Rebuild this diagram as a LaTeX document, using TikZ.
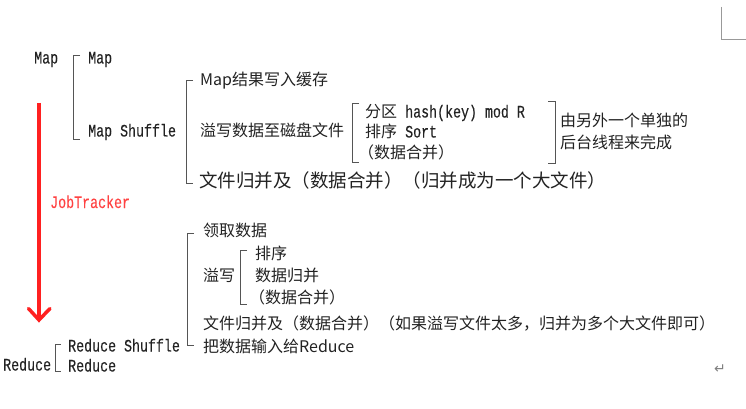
\documentclass[tikz,border=0pt]{standalone}
\usepackage{fontspec}
\setmainfont{Noto Sans CJK SC}
\newfontfamily\monofnt[FakeStretch=0.76,FakeBold=0.2]{Liberation Mono}
\newfontfamily\symbfnt{DejaVu Sans}
\newcommand{\Mo}[1]{{\monofnt\fontsize{17.5}{18}\selectfont #1}}
\definecolor{txt}{HTML}{222222}
\definecolor{brk}{HTML}{555555}
\definecolor{jt}{HTML}{FF2020}
\tikzset{
  t/.style={anchor=base west, inner sep=0pt, text=txt, font=\fontsize{16}{16}\selectfont},
  tbig/.style={t, font=\fontsize{18.5}{18.5}\selectfont},
  brack/.style={draw=brk, line width=1pt},
}
\begin{document}
\begin{tikzpicture}[x=1pt,y=-1pt]
\useasboundingbox (0,0) rectangle (746,409);
% corner mark
\coordinate (c1) at (721,7);
\coordinate (c2) at (721,40);
\coordinate (c3) at (746,40);
\draw[draw=gray!80, line width=1pt] (c1) -- (c2) -- (c3);

% Map section
\node[t] (map0) at (34,63.5) {\Mo{Map}};
\draw[brack] (80,56) -- (73,56) -- (73,139) -- (80,139);
\node[t] (map1) at (88,63.5) {\Mo{Map}};
\node[t] (mapsh) at (88,136.5) {\Mo{Map Shuffle}};

\draw[brack] (193,81) -- (186,81) -- (186,183) -- (193,183);
\node[t] (m1) at (200,85.5) {Map结果写入缓存};
\node[t] (m2) at (200,136.5) {溢写数据至磁盘文件};
\draw[brack] (359,104) -- (352,104) -- (352,162) -- (359,162);
\node[t] (p1) at (365,117.5) {分区\Mo{ hash(key) mod R}};
\node[t] (p2) at (365,137.5) {排序\Mo{ Sort}};
\node[t] (p3) at (358,158.5) {（数据合并）};
\draw[brack] (548,102) -- (555,102) -- (555,163) -- (548,163);
\node[t] (bg1) at (560,126.5) {由另外一个单独的};
\node[t] (bg2) at (560,148.5) {后台线程来完成};
\node[tbig] (m3) at (199,187.5) {文件归并及（数据合并）（归并成为一个大文件）};

% arrow
\coordinate (a1) at (39,103);
\coordinate (a2) at (39,320);
\draw[jt, line width=3.5pt] (a1) -- (a2);
\draw[jt, line width=3.5pt, line cap=round] (28.5,308.5) -- (a2) -- (50,308.5);
\node[t, text=jt!85] (jtr) at (50,208) {\Mo{JobTracker}};

% Reduce section
\draw[brack] (194,233) -- (187,233) -- (187,345) -- (194,345);
\node[t] (r1) at (203,236.5) {领取数据};
\node[t] (r2) at (203,281.5) {溢写};
\draw[brack] (247,250) -- (240,250) -- (240,304) -- (247,304);
\node[t] (s1) at (255,259.5) {排序};
\node[t] (s2) at (255,281.5) {数据归并};
\node[t] (s3) at (249,303.5) {（数据合并）};
\node[t] (r3) at (203,329.5) {文件归并及（数据合并）（如果溢写文件太多，归并为多个大文件即可）};
\node[t] (r4) at (203,352.5) {把数据输入给Reduce};

\node[t] (red0) at (3,370.5) {\Mo{Reduce}};
\draw[brack] (61,344) -- (55,344) -- (55,371) -- (61,371);
\node[t] (rsh) at (68,351.5) {\Mo{Reduce Shuffle}};
\node[t] (red1) at (68,371.5) {\Mo{Reduce}};

\node[t, text=gray, font=\symbfnt\fontsize{14}{14}\selectfont] (ret) at (714,373) {↵};
\end{tikzpicture}
\end{document}
